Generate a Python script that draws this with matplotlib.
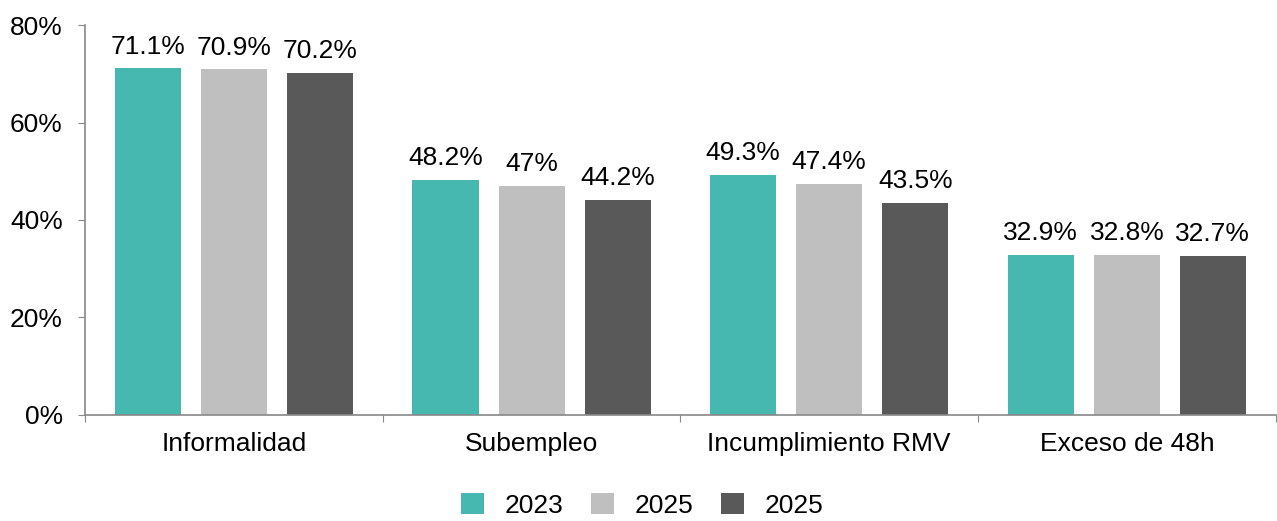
import matplotlib.pyplot as plt
import numpy as np

plt.rcParams['font.family'] = ['Liberation Sans', 'DejaVu Sans']

categories = ["Informalidad", "Subempleo", "Incumplimiento RMV", "Exceso de 48h"]
series_names = ["2023", "2025", "2025"]
values_a = [71.1, 48.2, 49.3, 32.9]
values_b = [70.9, 47.0, 47.4, 32.8]
values_c = [70.2, 44.2, 43.5, 32.7]
labels_a = ["71.1%", "48.2%", "49.3%", "32.9%"]
labels_b = ["70.9%", "47%", "47.4%", "32.8%"]
labels_c = ["70.2%", "44.2%", "43.5%", "32.7%"]
colors = ["#47B8B0", "#BFBFBF", "#595959"]

fs = 19

fig = plt.figure(figsize=(12.77, 5.21), dpi=100)
ax = fig.add_axes([0.0666, 0.2035, 0.9324, 0.7485])

x = np.arange(len(categories))
width = 0.222
step = 0.289

for i, (vals, labs) in enumerate(zip([values_a, values_b, values_c],
                                     [labels_a, labels_b, labels_c])):
    pos = x + (i - 1) * step
    bars = ax.bar(pos, vals, width, color=colors[i], label=series_names[i])
    for b, lab in zip(bars, labs):
        ax.text(b.get_x() + b.get_width() / 2, b.get_height() + 2.0, lab,
                ha="center", va="bottom", fontsize=fs)

ax.set_xlim(-0.5, len(categories) - 0.5)
ax.set_ylim(0, 80)
ax.set_yticks([0, 20, 40, 60, 80])
ax.set_yticklabels(["0%", "20%", "40%", "60%", "80%"])
ax.set_xticks(np.arange(-0.5, len(categories), 1.0))
ax.set_xticklabels([])
ax.set_xticks(x, minor=True)
ax.set_xticklabels(categories, minor=True)

ax.tick_params(axis="y", length=5, color="#888888", labelsize=fs, pad=11)
ax.tick_params(axis="x", which="major", length=5, color="#888888")
ax.tick_params(axis="x", which="minor", length=0, labelsize=fs, pad=12)

for s in ["top", "right"]:
    ax.spines[s].set_visible(False)
for s in ["left", "bottom"]:
    ax.spines[s].set_color("#888888")
    ax.spines[s].set_linewidth(1.2)

fig.legend(loc="lower center", bbox_to_anchor=(0.503, 0.006), ncol=3, frameon=False,
           fontsize=fs, handlelength=0.85, handleheight=0.85, columnspacing=1.05,
           handletextpad=0.8, borderaxespad=0, borderpad=0)

fig.savefig("out.png", dpi=100)
